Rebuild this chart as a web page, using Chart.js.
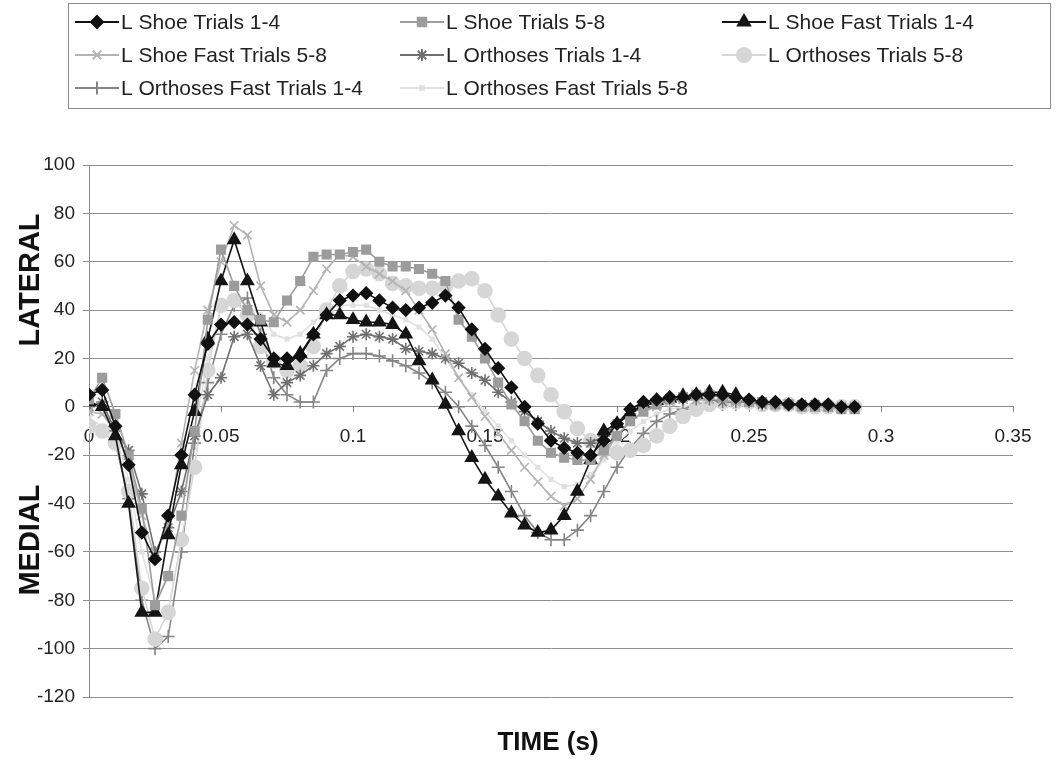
<!DOCTYPE html>
<html>
<head>
<meta charset="utf-8">
<script src="https://cdn.jsdelivr.net/npm/chart.js@4.4.1/dist/chart.umd.min.js"></script>
<style>
  html, body { margin: 0; padding: 0; background: #fff; }
  #wrap { position: relative; width: 1058px; height: 765px; }
</style>
</head>
<body>
<div id="wrap"><canvas id="rearfoot" width="1058" height="765"></canvas></div>
<script>
// sample times (s), one frame every 5 ms
const times = [0, 0.005, 0.01, 0.015, 0.02, 0.025, 0.03, 0.035, 0.04, 0.045,
  0.05, 0.055, 0.06, 0.065, 0.07, 0.075, 0.08, 0.085, 0.09, 0.095,
  0.1, 0.105, 0.11, 0.115, 0.12, 0.125, 0.13, 0.135, 0.14, 0.145,
  0.15, 0.155, 0.16, 0.165, 0.17, 0.175, 0.18, 0.185, 0.19, 0.195,
  0.2, 0.205, 0.21, 0.215, 0.22, 0.225, 0.23, 0.235, 0.24, 0.245,
  0.25, 0.255, 0.26, 0.265, 0.27, 0.275, 0.28, 0.285, 0.29];

const seriesNames = ['L Shoe Trials 1-4', 'L Shoe Trials 5-8', 'L Shoe Fast Trials 1-4',
  'L Shoe Fast Trials 5-8', 'L Orthoses Trials 1-4', 'L Orthoses Trials 5-8',
  'L Orthoses Fast Trials 1-4', 'L Orthoses Fast Trials 5-8'];

// lateral (+) / medial (-) values per trial group
const shoe14 = [5, 7, -8, -24, -52, -63, -45, -20, 5, 26,
  34, 35, 34, 28, 20, 20, 21, 30, 38, 44,
  46, 47, 44, 41, 40, 41, 43, 46, 41, 32,
  24, 16, 8, 0, -7, -14, -17, -19, -20, -14,
  -7, -1, 2, 3, 4, 4, 5, 5, 5, 4,
  3, 2, 2, 1, 1, 1, 1, 0, 0];
const shoe58 = [3, 12, -3, -20, -42, -82, -70, -45, -10, 36,
  65, 50, 40, 36, 35, 44, 52, 62, 63, 63,
  64, 65, 60, 58, 58, 57, 55, 52, 36, 29,
  20, 10, 1, -6, -14, -19, -21, -22, -22, -18,
  -12, -6, -2, 1, 3, 4, 5, 5, 4, 3,
  2, 2, 1, 1, 0, 0, 0, -1, -1];
const shoeFast14 = [2, 0, -12, -40, -85, -85, -53, -24, -2, 28,
  52, 69, 52, 35, 18, 17, 22, 30, 38, 38,
  36, 35, 35, 34, 30, 19, 11, 1, -10, -21,
  -30, -37, -44, -49, -52, -51, -45, -35, -22, -10,
  -7, -3, 1, 2.5, 3.5, 4.5, 5, 6, 6, 5];
const shoeFast58 = [-2, -3, -10, -22, -45, -62, -48, -15, 15, 40,
  60, 75, 71, 50, 38, 35, 40, 48, 57, 63,
  62, 58, 55, 52, 48, 40, 32, 22, 12, 4,
  -4, -11, -18, -25, -31, -37, -41, -38, -30, -20,
  -12, -6, -2, 0, 2, 3, 3, 3, 3, 2];
const orth14 = [0, 2, -10, -18, -36, -60, -50, -35, -12, 5,
  12, 29, 30, 17, 5, 10, 13, 17, 22, 25,
  29, 30, 29, 28, 24, 23, 22, 20, 18, 14,
  11, 6, 2, -2, -6, -10, -13, -15, -15, -12,
  -7, -3, 0, 2, 3, 3, 3, 3, 2, 2,
  2, 1, 1, 1, 1, 1, 0, 0, 0];
const orth58 = [-8, -10, -15, -35, -75, -96, -85, -55, -25, 15,
  42, 44, 38, 25, 19, 15, 17, 25, 40, 50,
  56, 57, 55, 51, 50, 49, 49, 50, 52, 53,
  48, 38, 28, 20, 13, 5, -2, -9, -14, -18,
  -19, -18, -16, -12, -8, -4, -1, 1, 2, 2,
  2, 1, 1, 1, 0, 0, 0, 0, 0];
const orthFast14 = [-8, -10, -15, -38, -80, -100, -95, -60, -15, 10,
  30, 42, 45, 30, 12, 5, 2, 2, 15, 20,
  22, 22, 21, 19, 17, 14, 10, 6, 0, -8,
  -16, -25, -35, -45, -52, -55, -55, -51, -45, -35,
  -25, -17, -11, -6, -3, -1, 1, 2, 1, 1];
const orthFast58 = [-5, -8, -12, -30, -60, -80, -70, -45, -10, 20,
  40, 45, 42, 38, 30, 28, 30, 35, 40, 42,
  42, 42, 40, 38, 36, 33, 28, 20, 12, 5,
  -2, -8, -14, -20, -25, -30, -33, -32, -28, -22,
  -15, -10, -6, -3, -1, 0, 1, 2, 2, 2];

const xTicks = [0, 0.05, 0.1, 0.15, 0.2, 0.25, 0.3, 0.35];
const yTicks = [-120, -100, -80, -60, -40, -20, 0, 20, 40, 60, 80, 100];

const seriesValues = [shoe14, shoe58, shoeFast14, shoeFast58, orth14, orth58, orthFast14, orthFast58];
const styles = [
  { color: '#111111', point: 'rectRot', r: 6 },
  { color: '#9c9c9c', point: 'rect', r: 6 },
  { color: '#151515', point: 'triangle', r: 7 },
  { color: '#b4b4b4', point: 'crossRot', r: 6 },
  { color: '#707070', point: 'star', r: 6 },
  { color: '#d6d6d6', point: 'circle', r: 7 },
  { color: '#858585', point: 'cross', r: 6.5 },
  { color: '#e0e0e0', point: 'rect', r: 2.5 }
];

const datasets = seriesValues.map((vals, k) => ({
  label: seriesNames[k],
  data: vals.map((v, i) => ({ x: times[i], y: v })),
  borderColor: styles[k].color,
  backgroundColor: styles[k].color,
  borderWidth: 1.6,
  pointStyle: styles[k].point,
  pointRadius: styles[k].r,
  pointBorderWidth: 1.6,
  pointBackgroundColor: styles[k].color,
  pointBorderColor: styles[k].color,
  tension: 0
}));

const FONT = '"Liberation Sans", Arial, Helvetica, sans-serif';

// legend box with line + marker samples, three columns
const legendBox = {
  id: 'legendBox',
  afterDraw(chart) {
    const ctx = chart.ctx;
    ctx.save();
    ctx.strokeStyle = '#8a8a8a';
    ctx.lineWidth = 1;
    ctx.strokeRect(68.5, 3.5, 982, 105);
    const colX = [75, 400, 722];
    const rowY = [22, 55, 88];
    ctx.font = '21px ' + FONT;
    ctx.textBaseline = 'middle';
    seriesNames.forEach((name, k) => {
      const x = colX[k % 3];
      const y = rowY[Math.floor(k / 3)];
      const st = styles[k];
      ctx.strokeStyle = st.color;
      ctx.fillStyle = st.color;
      ctx.lineWidth = 2;
      ctx.beginPath();
      ctx.moveTo(x, y);
      ctx.lineTo(x + 44, y);
      ctx.stroke();
      Chart.helpers.drawPoint(ctx, { pointStyle: st.point, radius: st.r, rotation: 0, borderWidth: 1.6 }, x + 22, y);
      ctx.fillStyle = '#222';
      ctx.fillText(name, x + 46, y + 1);
    });
    ctx.restore();
  }
};

// axis titles: split y title and the time label
const axisTitles = {
  id: 'axisTitles',
  afterDraw(chart) {
    const ctx = chart.ctx;
    ctx.save();
    ctx.fillStyle = '#111';
    ctx.textAlign = 'center';
    ctx.textBaseline = 'middle';
    ctx.font = 'bold 26px ' + FONT;
    ctx.fillText('TIME (s)', 548, 743);
    ctx.font = 'bold 29px ' + FONT;
    ctx.translate(31, 280);
    ctx.rotate(-Math.PI / 2);
    ctx.fillText('LATERAL', 0, 0);
    ctx.rotate(Math.PI / 2);
    ctx.translate(0, 260);
    ctx.rotate(-Math.PI / 2);
    ctx.fillText('MEDIAL', 0, 0);
    ctx.restore();
  }
};

new Chart(document.getElementById('rearfoot'), {
  type: 'line',
  data: { datasets },
  options: {
    responsive: false,
    animation: false,
    layout: { padding: { top: 165, right: 45, bottom: 68, left: 0 } },
    plugins: { legend: { display: false }, tooltip: { enabled: false } },
    scales: {
      x: {
        type: 'linear',
        position: { y: 0 },
        min: 0,
        max: 0.35,
        afterBuildTicks: axis => { axis.ticks = xTicks.map(v => ({ value: v })); },
        ticks: {
          font: { size: 19, family: FONT },
          color: '#222',
          padding: 14,
          maxRotation: 0,
          callback: v => String(Number(v.toFixed(2)))
        },
        grid: { drawOnChartArea: false, drawTicks: true, tickLength: 5, color: '#8a8a8a' },
        border: { color: '#8a8a8a' }
      },
      y: {
        min: -120,
        max: 100,
        afterBuildTicks: axis => { axis.ticks = yTicks.map(v => ({ value: v })); },
        afterFit: axis => { axis.width = 89; },
        ticks: {
          font: { size: 19, family: FONT },
          color: '#222',
          padding: 8
        },
        grid: { color: '#8f8f8f', tickLength: 6 },
        border: { color: '#8a8a8a' }
      }
    }
  },
  plugins: [legendBox, axisTitles]
});
</script>
</body>
</html>
